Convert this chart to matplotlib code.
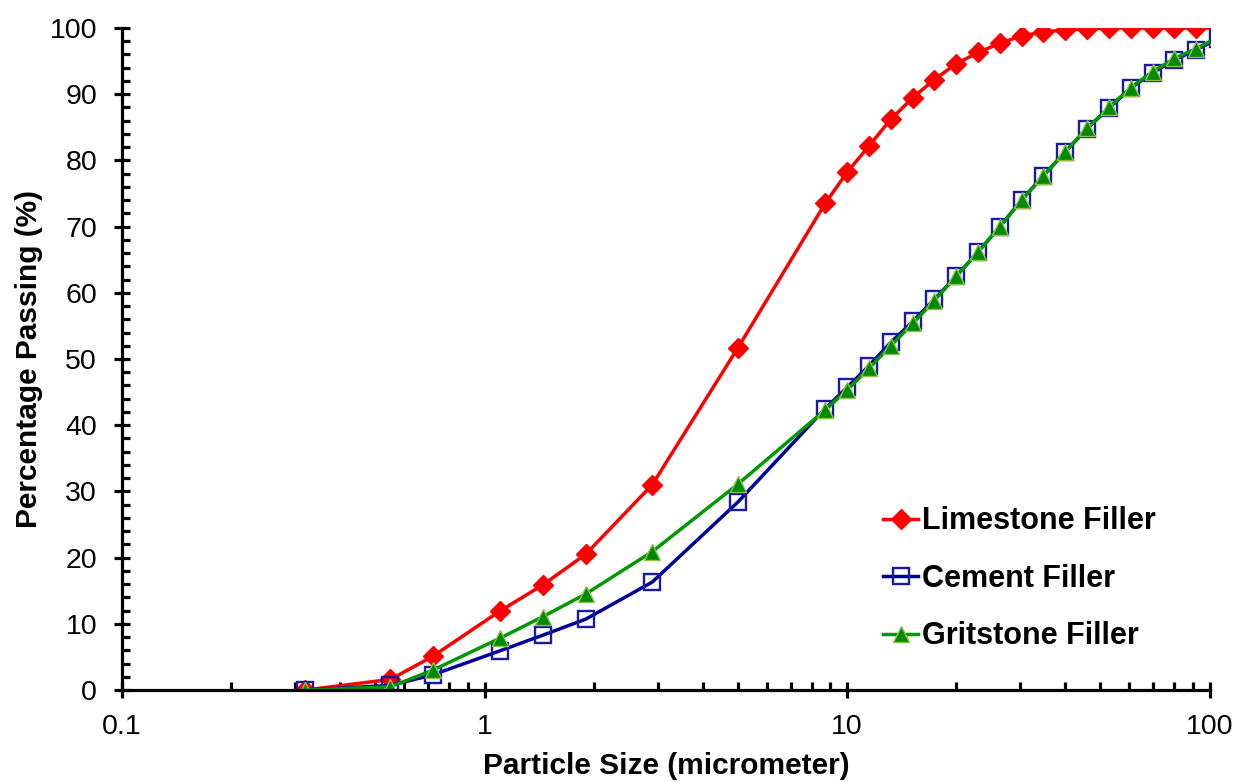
import matplotlib
matplotlib.use("Agg")
import matplotlib.pyplot as plt
from matplotlib.ticker import LogLocator, MultipleLocator, FixedLocator, FixedFormatter
import numpy as np

# particle size classes (micrometer)
sizes = [0.32, 0.55, 0.72, 1.1, 1.45, 1.9, 2.9, 5.0, 8.7, 10.0, 11.5, 13.2, 15.2,
         17.4, 20.0, 23.0, 26.4, 30.3, 34.8, 40.0, 45.9, 52.8, 60.6, 69.6, 80.0,
         91.9, 105.6]

# cumulative percentage passing
limestone = [0.0, 1.6, 5.1, 11.9, 15.9, 20.5, 31.0, 51.7, 73.5, 78.2, 82.2, 86.2,
             89.5, 92.2, 94.6, 96.3, 97.7, 98.8, 99.4, 99.7, 99.9, 100.0, 100.0,
             100.0, 100.0, 100.0, 100.0]
cement = [0.0, 0.7, 2.3, 5.9, 8.3, 10.7, 16.3, 28.4, 42.5, 45.7, 49.0, 52.5, 55.7,
          59.0, 62.5, 66.2, 70.0, 74.0, 77.7, 81.3, 84.8, 87.9, 90.9, 93.2, 95.2,
          96.7, 98.4]
gritstone = [0.0, 0.5, 3.0, 7.8, 11.1, 14.5, 20.9, 31.1, 42.3, 45.3, 48.6, 52.0,
             55.4, 58.8, 62.5, 66.2, 70.0, 74.0, 77.7, 81.3, 84.9, 88.0, 91.0,
             93.4, 95.4, 96.9, 98.6]

x_ticks = [0.1, 1, 10, 100]
x_tick_labels = ["0.1", "1", "10", "100"]

plt.rcParams['font.family'] = ['Liberation Sans', 'DejaVu Sans']

fig = plt.figure(figsize=(12.33, 7.82), dpi=100)
ax = fig.add_axes([0.099, 0.1176, 0.882, 0.8466])

ax.plot(sizes, limestone, color='#ff0000', lw=2.5, marker='D', ms=10,
        mfc='#ff0000', mec='#ff0000', mew=1, label='Limestone Filler')
ax.plot(sizes, cement, color='#000099', lw=2.5, marker='s', ms=12,
        mfc='none', mec='#1a1aa6', mew=1.7, label='Cement Filler')
ax.plot(sizes, gritstone, color='#009900', lw=2.5, marker='^', ms=12,
        mfc='#008a00', mec='#8fc04a', mew=1, label='Gritstone Filler')

ax.set_xscale('log')
ax.set_xlim(0.1, 100)
ax.set_ylim(0, 100)

ax.xaxis.set_major_locator(FixedLocator(x_ticks))
ax.xaxis.set_major_formatter(FixedFormatter(x_tick_labels))
ax.xaxis.set_minor_locator(LogLocator(base=10, subs=np.arange(2, 10)))
ax.xaxis.set_minor_formatter(FixedFormatter([]))
ax.yaxis.set_major_locator(MultipleLocator(10))
ax.yaxis.set_minor_locator(MultipleLocator(2))

for side in ['top', 'right']:
    ax.spines[side].set_visible(False)
for side in ['left', 'bottom']:
    ax.spines[side].set_linewidth(2.3)

ax.tick_params(which='major', direction='inout', length=12, width=2.3,
               labelsize=20.5)
ax.tick_params(which='minor', direction='in', length=6, width=2.3)
ax.tick_params(axis='y', which='major', pad=12)
ax.tick_params(axis='x', which='major', pad=11)

ax.set_xlabel('Particle Size (micrometer)', fontsize=21.5, fontweight='bold',
              labelpad=9)
ax.set_ylabel('Percentage Passing (%)', fontsize=21.5, fontweight='bold',
              labelpad=5)

leg = ax.legend(loc='center left', bbox_to_anchor=(0.700, 0.168), frameon=False,
                prop={'weight': 'bold', 'size': 22}, handlelength=1.15,
                handletextpad=0.12, borderpad=0, borderaxespad=0,
                labelspacing=0.9)

fig.savefig('out.png', dpi=100)
